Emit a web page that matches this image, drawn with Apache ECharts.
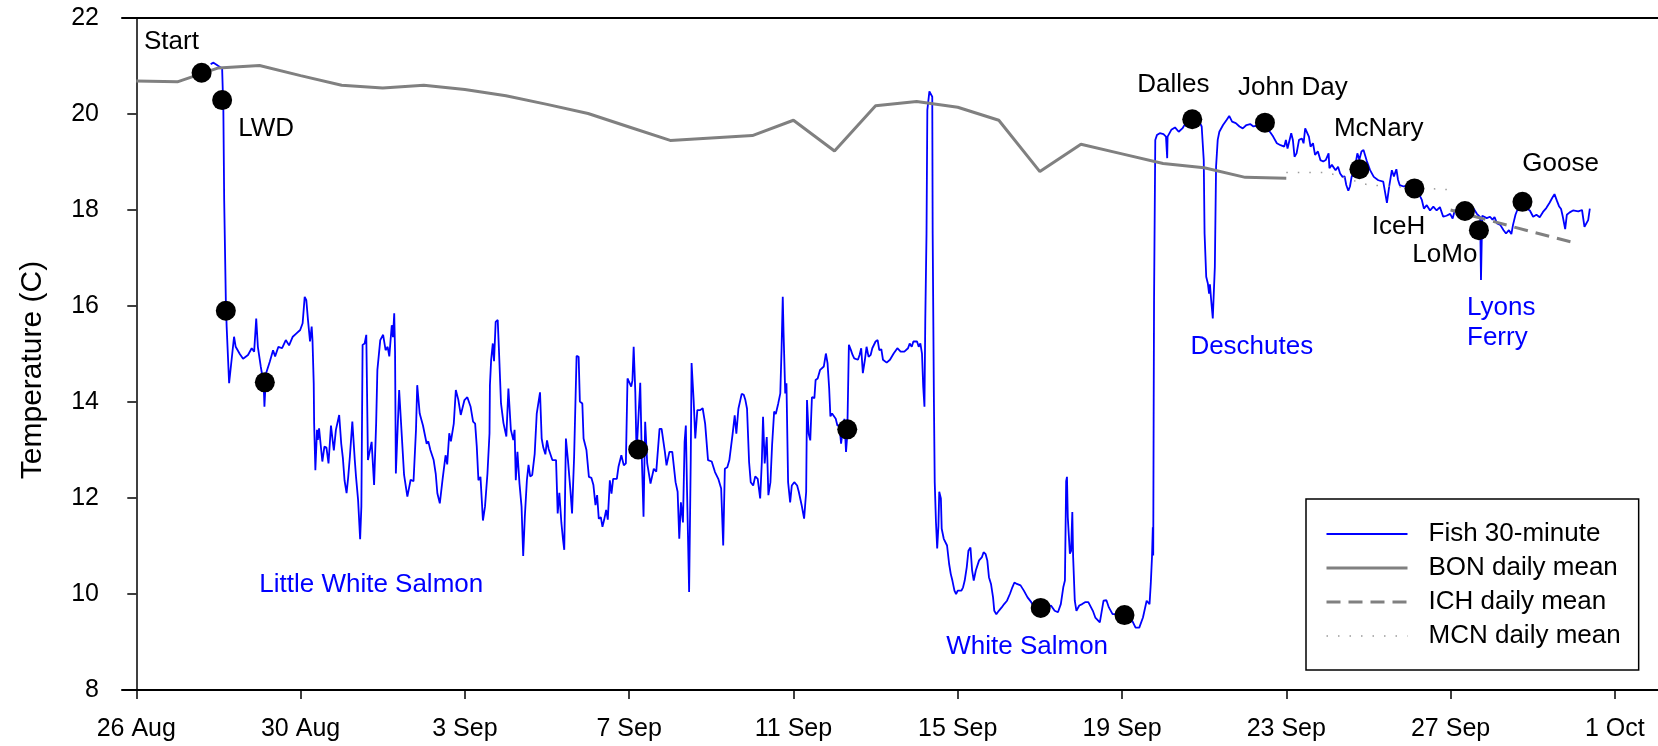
<!DOCTYPE html>
<html>
<head>
<meta charset="utf-8">
<title>Fish temperature</title>
<script src="https://cdn.jsdelivr.net/npm/echarts@6/dist/echarts.min.js"></script>
<style>
  html, body { margin: 0; padding: 0; background: #fff; }
  #chart { width: 1658px; height: 746px; }
</style>
</head>
<body>
<div id="chart"></div>
<script>
// x values are days after 26 Aug (00:00)
const tickDays = [0, 4, 8, 12, 16, 20, 24, 28, 32, 36];
const tickLabels = ['26 Aug', '30 Aug', '3 Sep', '7 Sep', '11 Sep', '15 Sep', '19 Sep', '23 Sep', '27 Sep', '1 Oct'];

// fish temperature, 30-minute readings [day, C]
const fish = [
  [1.81, 21.04], [1.88, 21.07], [2.00, 21.00], [2.09, 20.95], [2.12, 20.08], [2.14, 18.2], [2.18, 16.12], [2.20, 15.57],
  [2.26, 14.39], [2.38, 15.36], [2.42, 15.15], [2.52, 15.00], [2.60, 14.90], [2.72, 14.98], [2.81, 15.12], [2.87, 15.05],
  [2.92, 15.74], [2.96, 15.15], [3.03, 14.74], [3.10, 14.39], [3.12, 13.90], [3.16, 14.60], [3.25, 14.84], [3.33, 15.08],
  [3.38, 14.95], [3.46, 15.15], [3.55, 15.12], [3.64, 15.29], [3.72, 15.18], [3.81, 15.36], [3.90, 15.43], [3.99, 15.50],
  [4.05, 15.64], [4.10, 16.19], [4.14, 16.12], [4.18, 15.71], [4.23, 15.26], [4.27, 15.57], [4.29, 15.29], [4.32, 14.39],
  [4.33, 13.56], [4.36, 12.58], [4.40, 13.42], [4.42, 13.21], [4.45, 13.45], [4.49, 13.49], [4.53, 12.76], [4.58, 13.07],
  [4.63, 13.05], [4.68, 12.72], [4.74, 13.51], [4.79, 13.13], [4.81, 12.99], [4.86, 13.42], [4.90, 13.40], [4.94, 13.73],
  [4.99, 13.13], [5.03, 12.83], [5.07, 12.37], [5.12, 12.10], [5.16, 12.44], [5.20, 12.86], [5.26, 13.59], [5.32, 12.79],
  [5.35, 12.44], [5.40, 11.96], [5.45, 11.14], [5.48, 11.82], [5.51, 15.19], [5.56, 15.22], [5.60, 15.40], [5.64, 12.79],
  [5.68, 12.80], [5.73, 13.17], [5.79, 12.27], [5.84, 13.56], [5.87, 14.67], [5.94, 15.29], [6.01, 15.40], [6.07, 15.08],
  [6.12, 15.15], [6.16, 14.95], [6.22, 15.60], [6.25, 15.35], [6.28, 15.85], [6.30, 15.05], [6.32, 12.51], [6.40, 14.25],
  [6.47, 13.21], [6.52, 12.48], [6.60, 12.03], [6.68, 12.38], [6.75, 12.35], [6.81, 13.42], [6.84, 14.35], [6.90, 13.76],
  [6.98, 13.51], [7.07, 13.13], [7.11, 13.18], [7.16, 13.00], [7.24, 12.79], [7.29, 12.51], [7.33, 12.10], [7.39, 11.89],
  [7.46, 12.41], [7.53, 12.89], [7.57, 12.70], [7.62, 13.35], [7.66, 13.18], [7.73, 13.55], [7.78, 14.25], [7.84, 14.05],
  [7.90, 13.73], [7.99, 14.04], [8.06, 14.10], [8.14, 13.90], [8.20, 13.59], [8.25, 13.55], [8.29, 13.07], [8.33, 12.37],
  [8.38, 12.44], [8.44, 11.53], [8.49, 11.82], [8.55, 12.51], [8.60, 13.35], [8.61, 14.35], [8.64, 14.88], [8.68, 15.22],
  [8.71, 14.85], [8.75, 15.67], [8.80, 15.71], [8.83, 15.08], [8.88, 13.97], [8.94, 13.56], [9.01, 13.28], [9.06, 14.28],
  [9.12, 13.42], [9.18, 13.21], [9.21, 13.42], [9.24, 12.37], [9.28, 12.96], [9.33, 12.30], [9.38, 11.82], [9.42, 10.79],
  [9.46, 11.61], [9.51, 12.37], [9.55, 12.69], [9.59, 12.45], [9.64, 12.48], [9.70, 12.92], [9.75, 13.76], [9.79, 13.80],
  [9.83, 14.20], [9.87, 13.24], [9.91, 13.05], [9.96, 12.91], [10.00, 13.20], [10.04, 13.02], [10.08, 13.00], [10.13, 12.79],
  [10.22, 12.79], [10.26, 11.68], [10.30, 12.11], [10.35, 11.48], [10.39, 11.13], [10.42, 10.92], [10.46, 13.24], [10.51, 12.79],
  [10.57, 12.16], [10.61, 11.68], [10.66, 12.86], [10.72, 14.96], [10.77, 14.94], [10.80, 14.01], [10.86, 13.97], [10.89, 13.24],
  [10.96, 13.00], [11.02, 12.44], [11.08, 12.42], [11.13, 12.27], [11.18, 11.85], [11.22, 12.06], [11.26, 11.57], [11.31, 11.60],
  [11.35, 11.40], [11.39, 11.54], [11.44, 11.75], [11.48, 11.55], [11.53, 12.37], [11.57, 12.09], [11.61, 12.40], [11.70, 12.40],
  [11.74, 12.65], [11.81, 12.89], [11.87, 12.68], [11.92, 12.72], [11.96, 14.49], [12.05, 14.32], [12.08, 14.45], [12.11, 15.15],
  [12.15, 14.20], [12.18, 12.93], [12.27, 14.40], [12.31, 12.79], [12.35, 11.61], [12.39, 13.59], [12.44, 12.72], [12.52, 12.30],
  [12.60, 12.61], [12.66, 12.55], [12.74, 13.44], [12.79, 13.44], [12.87, 12.96], [12.91, 12.68], [12.98, 12.96], [13.05, 12.96],
  [13.13, 12.33], [13.18, 12.13], [13.22, 11.15], [13.26, 11.91], [13.31, 11.49], [13.35, 13.17], [13.38, 13.51], [13.41, 12.13],
  [13.46, 10.04], [13.50, 12.82], [13.52, 14.81], [13.57, 14.04], [13.61, 13.24], [13.66, 13.83], [13.73, 13.83], [13.79, 13.87],
  [13.85, 13.55], [13.92, 12.79], [14.01, 12.76], [14.09, 12.54], [14.17, 12.40], [14.24, 12.20], [14.29, 11.01], [14.33, 12.61],
  [14.39, 12.64], [14.44, 12.79], [14.52, 13.34], [14.57, 13.72], [14.61, 13.34], [14.66, 13.86], [14.70, 13.83], [14.74, 14.17],
  [14.79, 14.15], [14.83, 14.04], [14.87, 13.86], [14.92, 12.75], [14.96, 12.33], [15.02, 12.26], [15.07, 12.45], [15.13, 12.40],
  [15.19, 11.99], [15.23, 12.75], [15.26, 13.69], [15.30, 12.72], [15.35, 13.27], [15.39, 12.06], [15.44, 12.33], [15.48, 13.10],
  [15.53, 13.80], [15.57, 13.75], [15.63, 13.97], [15.68, 14.18], [15.71, 15.08], [15.74, 16.19], [15.76, 15.43], [15.80, 14.18],
  [15.83, 14.39], [15.87, 12.33], [15.92, 11.91], [15.96, 12.26], [16.02, 12.33], [16.09, 12.26], [16.13, 12.13], [16.20, 11.85],
  [16.26, 11.57], [16.31, 12.13], [16.33, 14.04], [16.37, 13.34], [16.41, 13.20], [16.45, 14.10], [16.51, 14.08], [16.54, 14.46],
  [16.59, 14.49], [16.65, 14.67], [16.74, 14.74], [16.79, 15.01], [16.83, 14.81], [16.87, 14.28], [16.90, 13.70], [16.94, 13.76],
  [16.98, 13.76], [17.03, 13.65], [17.07, 13.51], [17.12, 13.51], [17.16, 13.13], [17.20, 13.40], [17.24, 13.65], [17.28, 12.96],
  [17.31, 13.30], [17.35, 15.19], [17.40, 15.08], [17.44, 14.98], [17.48, 14.91], [17.52, 14.94], [17.57, 14.88], [17.61, 14.98],
  [17.65, 15.12], [17.69, 14.60], [17.74, 14.88], [17.78, 15.15], [17.83, 14.94], [17.88, 14.98], [17.92, 15.12], [17.96, 15.12],
  [18.00, 15.26], [18.05, 15.29], [18.09, 15.08], [18.14, 15.10], [18.18, 14.88], [18.27, 14.82], [18.35, 14.88], [18.44, 15.01],
  [18.53, 15.12], [18.61, 15.05], [18.70, 15.05], [18.79, 15.12], [18.83, 15.22], [18.88, 15.15], [18.92, 15.26], [18.96, 15.22],
  [19.01, 15.26], [19.05, 15.15], [19.09, 15.22], [19.13, 15.01], [19.16, 14.32], [19.19, 13.90], [19.21, 15.71], [19.24, 17.51],
  [19.26, 20.08], [19.31, 20.47], [19.35, 20.50], [19.38, 20.36], [19.39, 17.51], [19.42, 14.04], [19.44, 12.33], [19.47, 11.50],
  [19.50, 10.95], [19.53, 11.42], [19.55, 12.13], [19.59, 11.99], [19.61, 11.36], [19.66, 11.15], [19.70, 11.12], [19.74, 11.01],
  [19.79, 10.63], [19.83, 10.42], [19.87, 10.28], [19.92, 10.07], [19.96, 10.00], [20.00, 10.07], [20.09, 10.07], [20.13, 10.14],
  [20.17, 10.28], [20.22, 10.56], [20.26, 10.90], [20.31, 10.97], [20.35, 10.49], [20.39, 10.28], [20.44, 10.49], [20.48, 10.49],
  [20.52, 10.70], [20.59, 10.77], [20.63, 10.87], [20.68, 10.83], [20.72, 10.70], [20.76, 10.35], [20.81, 10.21], [20.86, 9.93],
  [20.89, 9.65], [20.94, 9.58], [21.00, 9.65], [21.07, 9.72], [21.13, 9.79], [21.20, 9.86], [21.27, 10.00], [21.33, 10.14],
  [21.38, 10.24], [21.44, 10.21], [21.48, 10.24], [21.53, 10.18], [21.57, 10.21], [21.61, 10.07], [21.70, 9.93], [21.79, 9.83],
  [21.87, 9.72], [21.96, 9.65], [22.09, 9.67], [22.18, 9.72], [22.27, 9.76], [22.36, 9.65], [22.44, 9.62], [22.51, 9.79],
  [22.57, 10.14], [22.61, 10.28], [22.64, 12.35], [22.66, 12.44], [22.68, 11.60], [22.73, 10.84], [22.76, 10.90], [22.79, 11.71],
  [22.81, 10.77], [22.85, 9.86], [22.89, 9.65], [22.96, 9.76], [23.03, 9.79], [23.10, 9.83], [23.18, 9.83], [23.22, 9.80],
  [23.29, 9.65], [23.35, 9.51], [23.46, 9.41], [23.55, 9.86], [23.62, 9.87], [23.68, 9.72], [23.77, 9.58], [23.90, 9.58],
  [23.99, 9.51], [24.12, 9.47], [24.25, 9.44], [24.33, 9.30], [24.42, 9.30], [24.51, 9.51], [24.60, 9.86], [24.67, 9.79],
  [24.70, 10.21], [24.73, 10.77], [24.75, 11.39], [24.76, 10.80], [24.77, 13.63], [24.78, 16.13], [24.81, 19.46], [24.85, 19.56],
  [24.92, 19.60], [25.01, 19.58], [25.07, 19.53], [25.10, 19.08], [25.11, 19.53], [25.20, 19.67], [25.29, 19.72], [25.38, 19.63],
  [25.47, 19.70], [25.55, 19.81], [25.64, 19.86], [25.73, 19.91], [25.81, 19.88], [25.90, 19.81], [25.94, 19.74], [25.99, 19.04],
  [26.01, 17.51], [26.05, 16.61], [26.09, 16.47], [26.12, 16.26], [26.14, 16.45], [26.17, 16.13], [26.21, 15.74], [26.26, 16.81],
  [26.29, 18.90], [26.33, 19.46], [26.37, 19.63], [26.46, 19.77], [26.55, 19.88], [26.61, 19.96], [26.68, 19.84], [26.77, 19.81],
  [26.86, 19.74], [26.94, 19.70], [27.03, 19.77], [27.12, 19.79], [27.20, 19.74], [27.29, 19.76], [27.38, 19.81], [27.48, 19.79],
  [27.60, 19.63], [27.68, 19.53], [27.77, 19.39], [27.86, 19.35], [27.95, 19.32], [27.99, 19.46], [28.03, 19.28], [28.12, 19.60],
  [28.16, 19.46], [28.20, 19.11], [28.25, 19.18], [28.31, 19.46], [28.38, 19.49], [28.42, 19.39], [28.46, 19.70], [28.50, 19.67],
  [28.55, 19.53], [28.59, 19.32], [28.65, 19.39], [28.70, 19.15], [28.77, 19.22], [28.83, 19.04], [28.90, 19.01], [28.96, 19.04],
  [29.03, 19.18], [29.05, 18.87], [29.11, 18.94], [29.15, 18.90], [29.20, 18.83], [29.26, 18.90], [29.31, 18.76], [29.37, 18.69],
  [29.42, 18.70], [29.46, 18.52], [29.51, 18.40], [29.55, 18.49], [29.59, 18.69], [29.66, 18.83], [29.73, 19.18], [29.78, 19.05],
  [29.83, 19.22], [29.88, 19.25], [29.96, 19.02], [30.04, 18.83], [30.13, 18.69], [30.24, 18.62], [30.36, 18.59], [30.45, 18.15],
  [30.51, 18.52], [30.57, 18.83], [30.62, 18.70], [30.68, 18.85], [30.72, 18.63], [30.76, 18.52], [30.86, 18.49], [30.94, 18.52],
  [31.03, 18.45], [31.12, 18.45], [31.22, 18.35], [31.30, 18.21], [31.35, 18.03], [31.42, 18.10], [31.50, 17.99], [31.58, 18.07],
  [31.66, 17.99], [31.74, 18.06], [31.82, 17.86], [31.90, 17.88], [31.99, 17.92], [32.05, 17.82], [32.10, 17.99], [32.20, 18.00],
  [32.35, 17.98], [32.48, 18.00], [32.56, 18.03], [32.64, 17.92], [32.72, 17.85], [32.74, 16.54], [32.77, 17.88], [32.80, 17.90],
  [32.88, 17.83], [32.96, 17.86], [33.02, 17.80], [33.07, 17.85], [33.13, 17.72], [33.21, 17.69], [33.29, 17.58], [33.35, 17.51],
  [33.42, 17.58], [33.48, 17.50], [33.52, 17.69], [33.58, 17.90], [33.62, 17.99], [33.70, 18.12], [33.79, 18.15], [33.85, 18.03],
  [33.93, 17.99], [34.01, 17.86], [34.09, 17.90], [34.17, 17.85], [34.25, 17.96], [34.33, 18.04], [34.41, 18.15], [34.48, 18.26],
  [34.53, 18.33], [34.59, 18.19], [34.64, 18.08], [34.69, 18.02], [34.73, 17.87], [34.79, 17.60], [34.83, 17.90], [34.90, 17.95],
  [34.98, 17.99], [35.11, 17.97], [35.20, 18.00], [35.26, 17.65], [35.30, 17.64], [35.35, 17.79], [35.39, 18.03]
];

// dam daily means
const bonDays = [0, 1, 2, 3, 4, 5, 6, 7, 8, 9, 10, 11, 12, 13, 14, 15, 16, 17, 18, 19, 20, 21, 22, 23, 24, 25, 26, 27, 28];
const bonTemp = [20.69, 20.67, 20.96, 21.01, 20.80, 20.60, 20.54, 20.60, 20.51, 20.38, 20.20, 20.01, 19.73, 19.45, 19.50,
  19.55, 19.87, 19.23, 20.17, 20.26, 20.14, 19.87, 18.80, 19.37, 19.17, 18.97, 18.88, 18.68, 18.66];
const ichDays = [32, 33, 34, 35];
const ichTemp = [18.00, 17.77, 17.54, 17.32];
const mcnDays = [28, 29, 30, 31, 32];
const mcnTemp = [18.78, 18.78, 18.52, 18.47, 18.42];

// detections at sites
const siteDays = [1.59, 2.09, 2.18, 3.13, 12.22, 17.31, 22.02, 24.06, 25.71, 27.48, 29.78, 31.12, 32.35, 32.69, 33.75];
const siteTemp = [20.86, 20.29, 15.90, 14.41, 13.01, 13.43, 9.71, 9.56, 19.89, 19.82, 18.85, 18.45, 17.98, 17.58, 18.17];

// annotations [day, C, text]
const damNotes = [
  [0.855, 21.51, 'Start'], [3.16, 19.70, 'LWD'], [25.25, 20.60, 'Dalles'], [28.16, 20.54, 'John Day'],
  [30.25, 19.70, 'McNary'], [34.68, 18.97, 'Goose'], [30.73, 17.65, 'IceH'], [31.86, 17.06, 'LoMo']
];
const riverNotes = [
  [5.72, 10.19, 'Little White Salmon'], [21.69, 8.90, 'White Salmon'], [27.16, 15.15, 'Deschutes'], [32.40, 15.65, 'Lyons\nFerry']
];

const zip = (xs, ys) => xs.map((x, i) => [x, ys[i]]);
const FONT = '"Liberation Sans", Arial, sans-serif';

const chart = echarts.init(document.getElementById('chart'));

const noteSeries = (notes, color) => ({
  type: 'scatter',
  silent: true,
  symbolSize: 1,
  itemStyle: { color: 'rgba(0,0,0,0)', opacity: 1 },
  z: 10,
  label: {
    show: true,
    position: 'inside',
    formatter: '{b}',
    color: color,
    fontSize: 26,
    fontFamily: FONT,
    lineHeight: 30
  },
  data: notes.map(n => ({
    name: n[2],
    value: [n[0], n[1]],
    label: n[2].indexOf('\n') >= 0 ? { align: 'left' } : undefined
  }))
});

chart.setOption({
  animation: false,
  textStyle: { fontFamily: FONT },
  grid: { left: 122, right: 0, top: 18, bottom: 56 },
  legend: {
    orient: 'vertical',
    left: 1306,
    top: 499,
    padding: [22, 18, 21, 19],
    borderColor: '#000',
    borderWidth: 1.5,
    itemWidth: 81,
    itemHeight: 14,
    itemGap: 8,
    selectedMode: false,
    itemStyle: { opacity: 0 },
    textStyle: { fontSize: 26, fontFamily: FONT, color: '#000', lineHeight: 26, padding: [0, 0, 0, 16] },
    data: [
      { name: 'Fish 30-minute', lineStyle: { width: 1.8 } },
      { name: 'BON daily mean', lineStyle: { width: 3 } },
      { name: 'ICH daily mean', lineStyle: { width: 3 } },
      { name: 'MCN daily mean', lineStyle: { width: 1.5 } }
    ]
  },
  xAxis: [{
    type: 'value',
    min: -0.348,
    max: 37.05,
    splitLine: { show: false },
    axisLine: { lineStyle: { color: '#000', width: 2 } },
    axisTick: { customValues: tickDays, length: 9, lineStyle: { color: '#000', width: 1.5 } },
    axisLabel: {
      customValues: tickDays,
      formatter: v => tickLabels[tickDays.indexOf(v)],
      color: '#000',
      fontSize: 25,
      margin: 27
    }
  }, {
    type: 'value',
    position: 'top',
    min: -0.348,
    max: 37.05,
    splitLine: { show: false },
    axisLine: { lineStyle: { color: '#000', width: 2 } },
    axisTick: { show: false },
    axisLabel: { show: false }
  }],
  yAxis: {
    type: 'value',
    min: 8,
    max: 22,
    interval: 2,
    name: 'Temperature (C)',
    nameLocation: 'middle',
    nameGap: 74,
    nameTextStyle: { fontSize: 30, color: '#000', padding: [0, 32, 0, 0] },
    splitLine: { show: false },
    axisLine: { show: true, lineStyle: { color: '#000', width: 1.5 } },
    axisTick: { length: 9, lineStyle: { color: '#000', width: 1.5 } },
    axisLabel: { color: '#000', fontSize: 25, margin: 23 }
  },
  series: [
    {
      name: 'Fish 30-minute',
      type: 'line',
      symbol: 'none',
      data: fish,
      lineStyle: { color: '#0000ff', width: 1.8 },
      itemStyle: { color: '#0000ff' },
      z: 2
    },
    {
      name: 'BON daily mean',
      type: 'line',
      symbol: 'none',
      data: zip(bonDays, bonTemp),
      lineStyle: { color: '#808080', width: 3 },
      itemStyle: { color: '#808080' },
      z: 3
    },
    {
      name: 'ICH daily mean',
      type: 'line',
      symbol: 'none',
      data: zip(ichDays, ichTemp),
      lineStyle: { color: '#808080', width: 3, type: [14, 8] },
      itemStyle: { color: '#808080' },
      z: 3
    },
    {
      name: 'MCN daily mean',
      type: 'line',
      symbol: 'none',
      data: zip(mcnDays, mcnTemp),
      lineStyle: { color: '#9a9a9a', width: 1.5, type: [1.5, 10] },
      itemStyle: { color: '#9a9a9a' },
      z: 3
    },
    {
      type: 'scatter',
      symbol: 'circle',
      symbolSize: 20,
      itemStyle: { color: '#000', opacity: 1 },
      data: zip(siteDays, siteTemp),
      z: 5
    },
    noteSeries(damNotes, '#000'),
    noteSeries(riverNotes, '#0000ff')
  ]
});
</script>
</body>
</html>
